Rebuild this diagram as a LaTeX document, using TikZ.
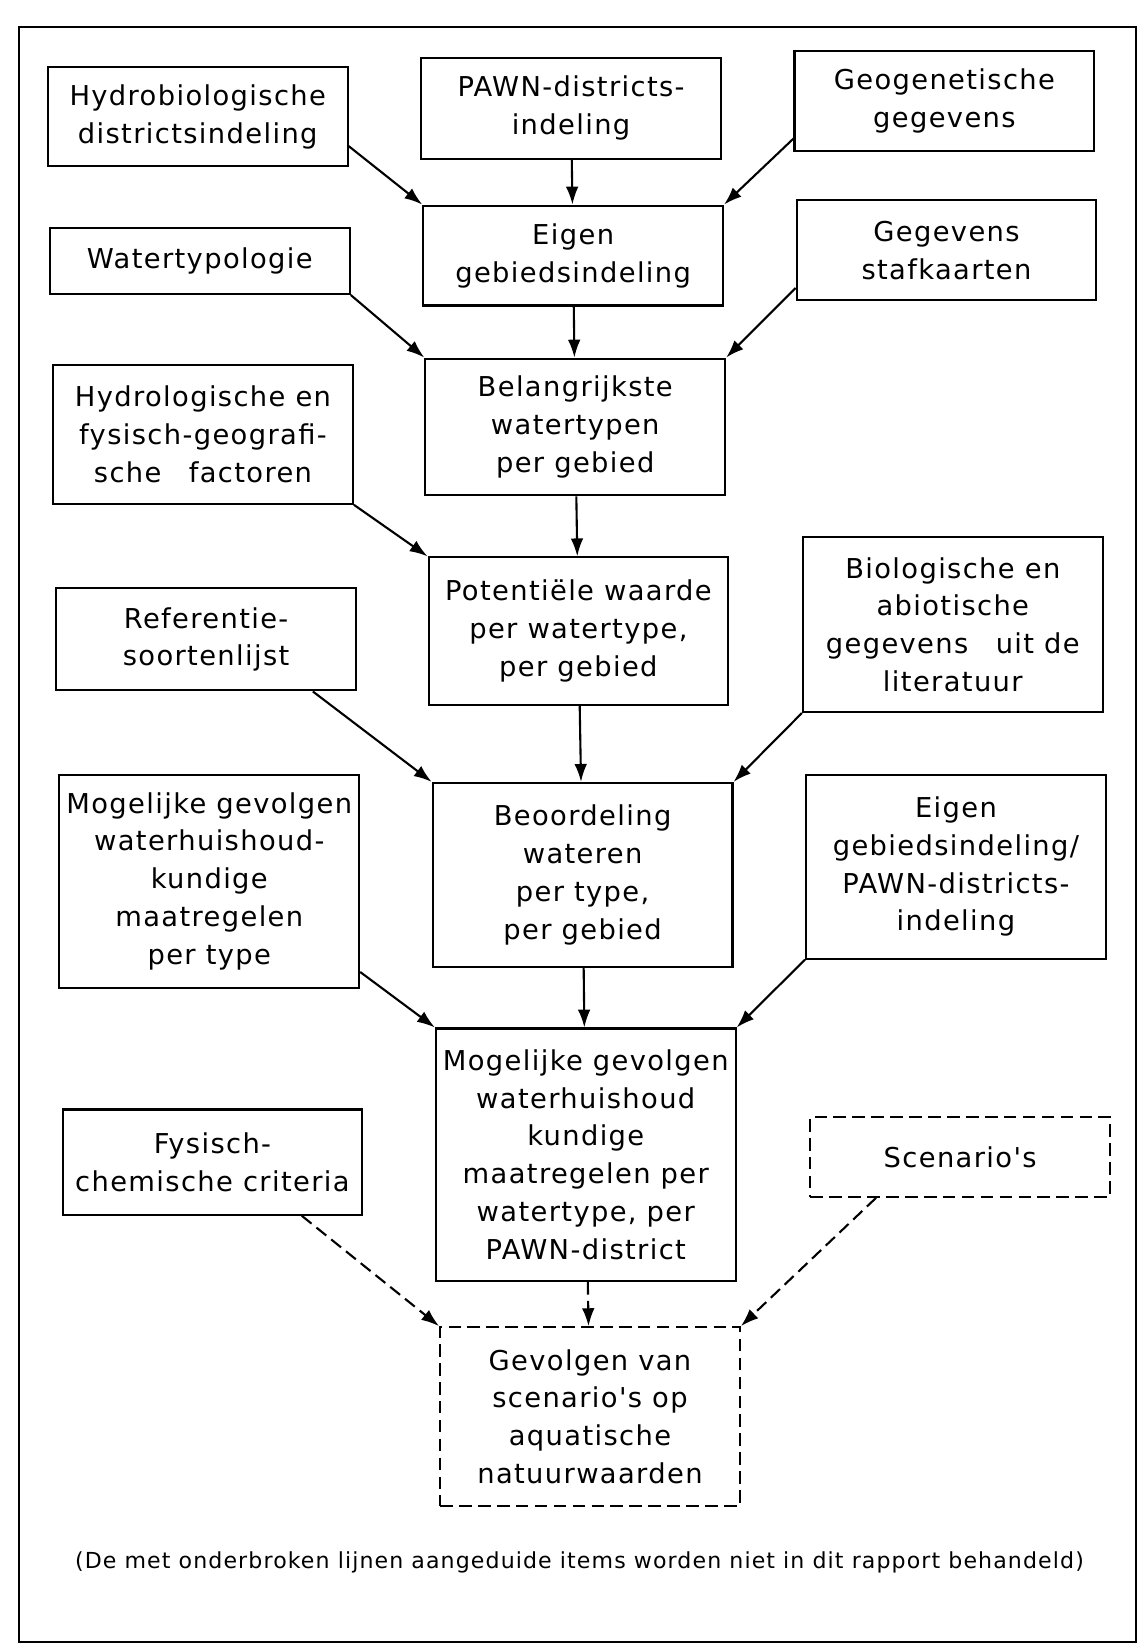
\documentclass[tikz,border=0pt]{standalone}
\usepackage{fontspec}
\setmainfont{DejaVu Sans}[Ligatures=TeXOff, LetterSpace=5]
\usetikzlibrary{arrows.meta}

\begin{document}
\begin{tikzpicture}[x=1pt,y=-1pt,
   blok/.style={draw, line width=2pt, align=center, inner sep=2pt, minimum width=285,
                font=\fontsize{26}{36}\selectfont},
   stippel/.style={dash pattern=on 12pt off 6pt},
   pijl/.style={line width=2pt, -{Latex[length=17pt,width=12pt]}}]
   \useasboundingbox (0,0) rectangle (1088,1568);
   \draw[line width=2pt] (18,26) rectangle (1080,1561);
 \begin{scope}[every node/.style=blok]
   \node (hydrobio) [minimum height=94] at (188,111) {Hydrobiologische\\districtsindeling};
   \node (pawn) [minimum height=96] at (543,103) {PAWN-districts-\\indeling};
   \node (geogen) [minimum height=95] at (898,96) {Geogenetische\\gegevens};
   \node (watertyp) [minimum height=63] at (190,248) {Watertypologie};
   \node (eigen) [minimum height=95] at (545,243) {Eigen\\gebiedsindeling};
   \node (staf) [minimum height=95] at (900,238) {Gegevens\\stafkaarten};
   \node (hydrol) [minimum height=132] at (193,413) {Hydrologische en\\fysisch-geografi-\\sche\quad factoren};
   \node (belang) [minimum height=130] at (547,406) {Belangrijkste\\watertypen\\per gebied};
   \node (refer) [minimum height=97] at (196,608) {Referentie-\\soortenlijst};
   \node (potent) [minimum height=140] at (550,600) {Potentiële waarde\\per watertype,\\per gebied};
   \node (biolog) [minimum height=166] at (906,594) {Biologische en\\abiotische\\gegevens\quad uit de\\literatuur};
   \node (maatreg) [minimum height=203] at (199,838) {Mogelijke gevolgen\\waterhuishoud-\\kundige\\maatregelen\\per type};
   \node (beoord) [minimum height=175] at (554,832) {Beoordeling\\wateren\\per type,\\per gebied};
   \node (eigenpawn) [minimum height=175] at (909,824) {Eigen\\gebiedsindeling/\\PAWN-districts-\\indeling};
   \node (gevolgen) [minimum height=240] at (557,1098) {Mogelijke gevolgen\\waterhuishoud\\kundige\\maatregelen per\\watertype, per\\PAWN-district};
   \node (fysch) [minimum height=100] at (202,1105) {Fysisch-\\chemische criteria};
   \node (scen) [stippel, minimum height=76] at (913,1100) {Scenario's};
   \node (natuur) [stippel, minimum height=170] at (561,1347) {Gevolgen van\\scenario's op\\aquatische\\natuurwaarden};
 \end{scope}
   \node (noot) [font=\fontsize{21}{24}\selectfont] at (551,1486)
      {(De met onderbroken lijnen aangeduide items worden niet in dit rapport behandeld)};
 % pijlen
   \draw[pijl] (hydrobio.-11) -- (eigen.north west);
   \draw[pijl] (pawn) -- (eigen);
   \draw[pijl] (geogen.-166) -- (eigen.north east);
   \draw[pijl] (watertyp.south east) -- (belang.north west);
   \draw[pijl] (eigen) -- (belang);
   \draw[pijl] (staf.-166) -- (belang.north east);
   \draw[pijl] (hydrol.south east) -- (potent.north west);
   \draw[pijl] (belang) -- (potent);
   \draw[pijl] (refer.-26) -- (beoord.north west);
   \draw[pijl] (potent) -- (beoord);
   \draw[pijl] (biolog.south west) -- (beoord.north east);
   \draw[pijl] (maatreg.-31) -- (gevolgen.north west);
   \draw[pijl] (beoord) -- (gevolgen);
   \draw[pijl] (eigenpawn.south west) -- (gevolgen.north east);
   \draw[pijl, stippel] (fysch.-31) -- (natuur.north west);
   \draw[pijl, stippel] (gevolgen) -- (natuur);
   \draw[pijl, stippel] (scen.-154) -- (natuur.north east);
\end{tikzpicture}
\end{document}
